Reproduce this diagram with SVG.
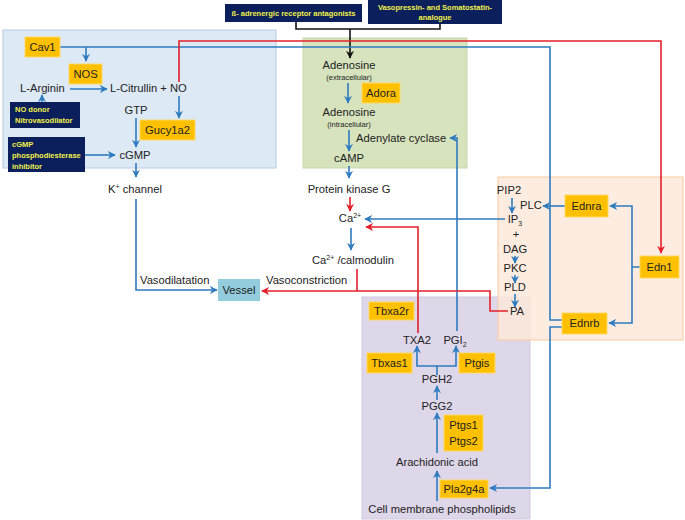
<svg xmlns="http://www.w3.org/2000/svg" width="685" height="520" viewBox="0 0 685 520">
<defs>
<style>
.t{font-family:"Liberation Sans",Arial,sans-serif;font-size:11.2px;fill:#222}
.m{text-anchor:middle}
.s{font-size:7.5px}
.nv{fill:#0b1f5c}
.nt{font-family:"Liberation Sans",Arial,sans-serif;font-size:7.5px;font-weight:bold;fill:#f2f24a}
.yb{fill:#ffc000;stroke:#ffd966;stroke-width:1}
.b{fill:none;stroke:#2e7bbf;stroke-width:1.6}
.r{fill:none;stroke:#e3202b;stroke-width:1.6}
.k{fill:none;stroke:#111;stroke-width:1.6}
</style>
<marker id="ab" viewBox="0 0 10 10" refX="9" refY="5" markerWidth="8" markerHeight="8" markerUnits="userSpaceOnUse" orient="auto"><path d="M0,0 L10,5 L0,10 L3,5 z" fill="#2e7bbf"/></marker>
<marker id="ar" viewBox="0 0 10 10" refX="9" refY="5" markerWidth="8" markerHeight="8" markerUnits="userSpaceOnUse" orient="auto"><path d="M0,0 L10,5 L0,10 L3,5 z" fill="#e3202b"/></marker>
<marker id="ak" viewBox="0 0 10 10" refX="9" refY="5" markerWidth="8" markerHeight="8" markerUnits="userSpaceOnUse" orient="auto"><path d="M0,0 L10,5 L0,10 L3,5 z" fill="#111"/></marker>
</defs>
<rect width="685" height="520" fill="#fff"/>
<g id="panels">
<rect x="3" y="30" width="273" height="138" fill="#dde9f5" stroke="#b7cce4"/>
<rect x="303" y="38" width="164" height="130" fill="#d6e3bd" stroke="#c6d8a8"/>
<rect x="362" y="297" width="168" height="222" fill="#ded6e9" stroke="#d2c8e0"/>
<rect x="498" y="177" width="185" height="163" fill="#fde9d9" fill-opacity="0.85" stroke="#f8c9a0"/>
</g>
<g id="connectors">
<path class="k" d="M296,22 V29 H440 V24"/>
<path class="k" d="M350,29 V58" marker-end="url(#ak)"/>
<path class="b" d="M60,47 H550 V320 H562"/>
<path class="b" d="M86,47 V61" marker-end="url(#ab)"/>
<path class="b" d="M70,89 H107" marker-end="url(#ab)"/>
<path class="b" d="M42,102 V95" marker-end="url(#ab)"/>
<path class="b" d="M179,96 V118" marker-end="url(#ab)"/>
<path class="b" d="M136,118 V147" marker-end="url(#ab)"/>
<path class="b" d="M85,155 H115" marker-end="url(#ab)"/>
<path class="b" d="M136,163 V177" marker-end="url(#ab)"/>
<path class="b" d="M136,199 V290 H217" marker-end="url(#ab)"/>
<path class="b" d="M348,83 V103" marker-end="url(#ab)"/>
<path class="b" d="M349,130 V151" marker-end="url(#ab)"/>
<path class="b" d="M349,166 V178" marker-end="url(#ab)"/>
<path class="b" d="M351,228 V250" marker-end="url(#ab)"/>
<path class="b" d="M505,219 H365" marker-end="url(#ab)"/>
<path class="b" d="M457,331 V138 H450" marker-end="url(#ab)"/>
<path class="b" d="M512,198 V213" marker-end="url(#ab)"/>
<path class="b" d="M565,206 H543" marker-end="url(#ab)"/>
<path class="b" d="M515,256 V263" marker-end="url(#ab)"/>
<path class="b" d="M515,275 V283" marker-end="url(#ab)"/>
<path class="b" d="M515,294 V307" marker-end="url(#ab)"/>
<path class="b" d="M640,267 H632 V206 H610" marker-end="url(#ab)"/>
<path class="b" d="M632,267 V323 H609" marker-end="url(#ab)"/>
<path class="b" d="M562,327 H550 V488 H490" marker-end="url(#ab)"/>
<path class="b" d="M437,375 V366"/>
<path class="b" d="M437,366 H417 V346" marker-end="url(#ab)"/>
<path class="b" d="M437,366 H456 V346" marker-end="url(#ab)"/>
<path class="b" d="M437,400 V386" marker-end="url(#ab)"/>
<path class="b" d="M437,453 V413" marker-end="url(#ab)"/>
<path class="b" d="M437,501 V471" marker-end="url(#ab)"/>
<path class="r" d="M179,82 V41 H661 V253" marker-end="url(#ar)"/>
<path class="r" d="M350,197 V211" marker-end="url(#ar)"/>
<path class="r" d="M418,333 V227 H366" marker-end="url(#ar)"/>
<path class="r" d="M508,311 H490 V291 H262" marker-end="url(#ar)"/>
<path class="r" d="M357,269 V291"/>
</g>
<g id="beta"><rect class="nv" x="225" y="4" width="137" height="18"/><text class="nt m" x="293.5" y="15.5">ß- adrenergic receptor antagonists</text></g>
<g id="vaso"><rect class="nv" x="368" y="0" width="134" height="24"/><text class="nt m" x="435" y="10">Vasopressin-  and Somatostatin-</text><text class="nt m" x="435" y="20">analogue</text></g>
<g id="nodonor"><rect class="nv" x="10" y="102" width="70" height="26"/><text class="nt" x="15" y="112">NO donor</text><text class="nt" x="15" y="123">Nitrovasodilator</text></g>
<g id="pde"><rect class="nv" x="8" y="137" width="77" height="35"/><text class="nt" x="12" y="147">cGMP</text><text class="nt" x="12" y="158">phosphodiesterase</text><text class="nt" x="12" y="169">inhibitor</text></g>
<g id="cav1"><rect class="yb" x="25" y="37" width="35" height="20"/><text class="t m" x="42.5" y="51">Cav1</text></g>
<g id="nos"><rect class="yb" x="69" y="64" width="33" height="20"/><text class="t m" x="85.5" y="78">NOS</text></g>
<g id="gucy"><rect class="yb" x="140" y="120" width="55" height="20"/><text class="t m" x="167.5" y="134">Gucy1a2</text></g>
<g id="adora"><rect class="yb" x="362" y="83" width="38" height="20"/><text class="t m" x="381" y="97">Adora</text></g>
<g id="ednra"><rect class="yb" x="565" y="195" width="43" height="22"/><text class="t m" x="586.5" y="210">Ednra</text></g>
<g id="edn1"><rect class="yb" x="640" y="256" width="39" height="22"/><text class="t m" x="659.5" y="271">Edn1</text></g>
<g id="ednrb"><rect class="yb" x="562" y="313" width="45" height="21"/><text class="t m" x="584.5" y="327">Ednrb</text></g>
<g id="tbxa2r"><rect class="yb" x="369" y="302" width="45" height="18"/><text class="t m" x="391.5" y="315">Tbxa2r</text></g>
<g id="tbxas1"><rect class="yb" x="367" y="353" width="45" height="20"/><text class="t m" x="389.5" y="367">Tbxas1</text></g>
<g id="ptgis"><rect class="yb" x="459" y="353" width="36" height="20"/><text class="t m" x="477" y="367">Ptgis</text></g>
<g id="ptgs"><rect class="yb" x="444" y="415" width="39" height="36"/><text class="t m" x="463.5" y="429">Ptgs1</text><text class="t m" x="463.5" y="445">Ptgs2</text></g>
<g id="pla2g4a"><rect class="yb" x="440" y="480" width="48" height="18"/><text class="t m" x="464" y="493">Pla2g4a</text></g>
<g id="vessel"><rect x="218" y="279" width="42" height="22" fill="#93cddd"/><text class="t m" x="239" y="294">Vessel</text></g>
<g id="labels">
<text class="t" x="20" y="92">L-Arginin</text>
<text class="t" x="110" y="92">L-Citrullin + NO</text>
<text class="t m" x="136" y="114">GTP</text>
<text class="t m" x="135" y="159">cGMP</text>
<text class="t m" x="135" y="193">K<tspan font-size="7" dy="-4">+</tspan><tspan dy="4"> channel</tspan></text>
<text class="t" x="140" y="284">Vasodilatation</text>
<text class="t" x="266" y="284">Vasoconstriction</text>
<text class="t m" x="349" y="69">Adenosine</text>
<text class="t m s" x="349" y="80">(extracellular)</text>
<text class="t m" x="349" y="116">Adenosine</text>
<text class="t m s" x="349" y="127">(intracellular)</text>
<text class="t" x="356" y="142">Adenylate cyclase</text>
<text class="t m" x="349" y="162">cAMP</text>
<text class="t m" x="349" y="193">Protein kinase G</text>
<text class="t m" x="350" y="222">Ca<tspan font-size="7" dy="-4">2+</tspan></text>
<text class="t m" x="353" y="264">Ca<tspan font-size="7" dy="-4">2+</tspan><tspan dy="4"> /calmodulin</tspan></text>
<text class="t m" x="509" y="194">PIP2</text>
<text class="t" x="520" y="209">PLC</text>
<text class="t m" x="515" y="223">IP<tspan font-size="7" dy="3">3</tspan></text>
<text class="t m" x="516" y="238">+</text>
<text class="t m" x="515" y="253">DAG</text>
<text class="t m" x="515" y="272">PKC</text>
<text class="t m" x="515" y="291">PLD</text>
<text class="t m" x="517" y="315">PA</text>
<text class="t m" x="417" y="344">TXA2</text>
<text class="t m" x="455" y="344">PGI<tspan font-size="7" dy="3">2</tspan></text>
<text class="t m" x="437" y="383">PGH2</text>
<text class="t m" x="437" y="410">PGG2</text>
<text class="t m" x="437" y="466">Arachidonic acid</text>
<text class="t m" x="442" y="513">Cell membrane phospholipids</text>
</g>
</svg>
